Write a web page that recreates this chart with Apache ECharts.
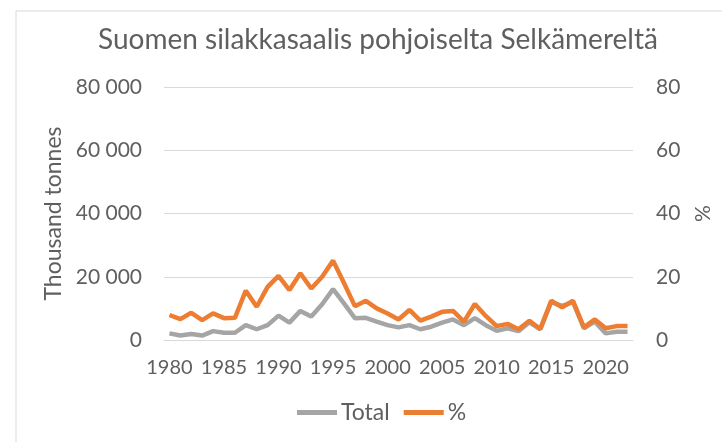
<!DOCTYPE html>
<html>
<head>
<meta charset="utf-8">
<script src="https://cdn.jsdelivr.net/npm/echarts@6/dist/echarts.min.js"></script>
<style>
html,body{margin:0;padding:0;background:#fff;}
#main{width:722px;height:442px;}
</style>
</head>
<body>
<div id="main"></div>
<script>
// vuodet
var years = [];
for (var y = 1980; y <= 2022; y++) years.push(String(y));
// saalis, tonnia
var total = [2100,1400,1900,1400,2800,2300,2300,4700,3400,4700,
             7700,5500,9200,7400,11300,16100,11600,6900,7000,5800,
             4700,4000,4700,3400,4200,5500,6500,4700,6900,4700,
             2900,3700,2800,5600,3400,12000,10800,12000,3700,5800,
             2100,2600,2600];
// osuus, %
var percent = [7.9,6.6,8.6,6.3,8.4,6.9,7.0,15.6,10.5,16.8,
               20.3,15.8,21.1,16.3,20.0,25.1,18.0,10.7,12.4,10.0,
               8.4,6.5,9.5,6.1,7.4,8.9,9.2,5.8,11.4,7.6,
               4.4,5.1,3.4,6.1,3.5,12.4,10.3,12.4,4.0,6.5,
               3.7,4.4,4.4];

var txt = '#5f5f5f';
var font = 'Lato';

var myChart = echarts.init(document.getElementById('main'));

var option = {
    animation: false,
    color: ['#A5A5A5', '#ED7D31'],
    title: {
        text: 'Suomen silakkasaalis pohjoiselta Selkämereltä',
        left: 93,
        top: 21,
        textStyle: { color: txt, fontFamily: font, fontSize: 28, fontWeight: 'normal' }
    },
    graphic: [{
        type: 'rect',
        shape: { x: 16, y: 11, width: 800, height: 500 },
        style: { fill: 'none', stroke: '#d9d9d9', lineWidth: 1 },
        silent: true
    }],
    legend: {
        data: ['Total', '%'],
        bottom: 13,
        left: 292,
        icon: 'rect',
        itemWidth: 40,
        itemHeight: 5,
        itemGap: 14,
        textStyle: { color: txt, fontFamily: font, fontSize: 23, padding: [0, 0, 0, -1] }
    },
    grid: { left: 164, right: 86, top: 87, bottom: 102 },
    xAxis: {
        type: 'category',
        data: years,
        boundaryGap: true,
        axisLine: { lineStyle: { color: '#d9d9d9', width: 1 } },
        axisTick: { show: false },
        axisLabel: { interval: 4, color: txt, fontFamily: font, fontSize: 20, margin: 18 }
    },
    yAxis: [{
        type: 'value',
        min: 0, max: 80000, interval: 20000,
        name: 'Thousand tonnes',
        nameLocation: 'middle',
        nameGap: 97,
        nameRotate: 90,
        nameTextStyle: { color: txt, fontFamily: font, fontSize: 23 },
        axisLine: { show: false },
        axisTick: { show: false },
        splitLine: { lineStyle: { color: '#d9d9d9', width: 1 } },
        axisLabel: {
            color: txt, fontFamily: font, fontSize: 21, margin: 22,
            formatter: function (v) { return String(v).replace(/\B(?=(\d{3})+(?!\d))/g, ' '); }
        }
    }, {
        type: 'value',
        min: 0, max: 80, interval: 20,
        name: '%',
        nameLocation: 'middle',
        nameGap: 60,
        nameRotate: 90,
        nameTextStyle: { color: txt, fontFamily: font, fontSize: 21 },
        axisLine: { show: false },
        axisTick: { show: false },
        splitLine: { show: false },
        axisLabel: { color: txt, fontFamily: font, fontSize: 21, margin: 23 }
    }],
    series: [{
        name: 'Total',
        type: 'line',
        yAxisIndex: 0,
        data: total,
        showSymbol: false,
        lineStyle: { width: 4.5 }
    }, {
        name: '%',
        type: 'line',
        yAxisIndex: 1,
        data: percent,
        showSymbol: false,
        lineStyle: { width: 4.5 }
    }]
};

myChart.setOption(option);
</script>
</body>
</html>
